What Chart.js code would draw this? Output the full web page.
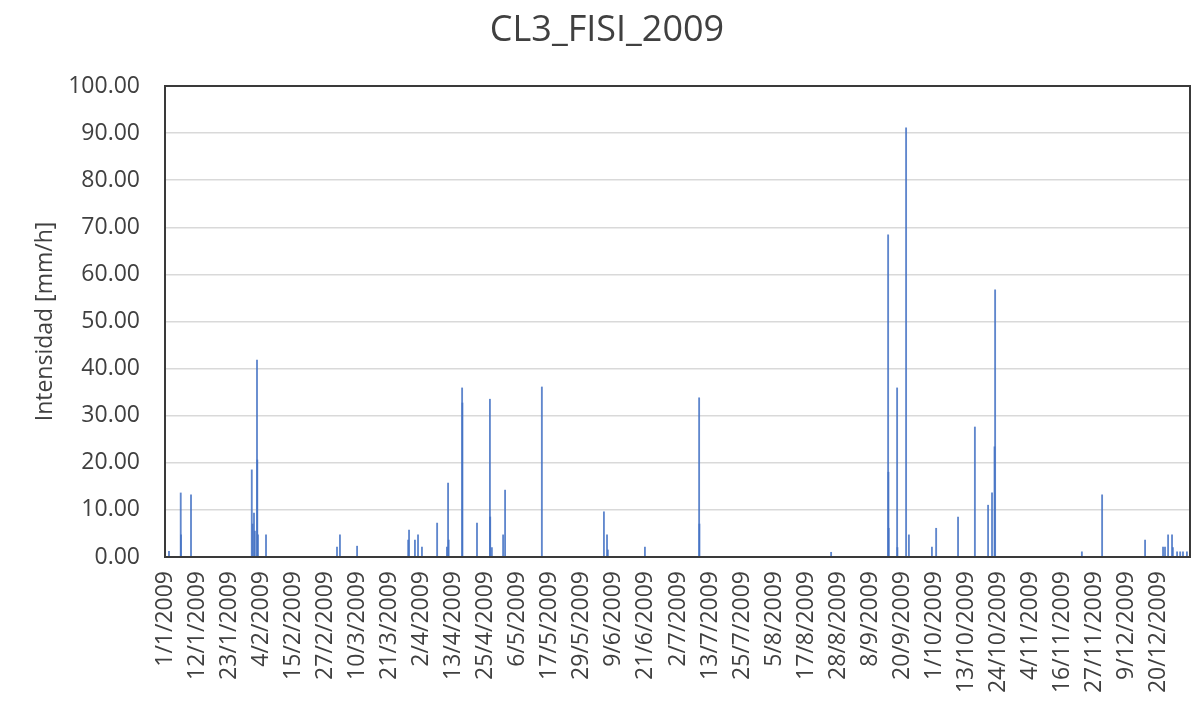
<!DOCTYPE html>
<html>
<head>
<meta charset="utf-8">
<title>CL3_FISI_2009</title>
<script src="https://cdn.jsdelivr.net/npm/chart.js@4.4.1/dist/chart.umd.min.js"></script>
<style>
  html, body { margin: 0; padding: 0; background: #ffffff; }
  #wrap { width: 1192px; height: 704px; position: relative; }
</style>
</head>
<body>
<div id="wrap"><canvas id="chart" width="1192" height="704"></canvas></div>
<script>
// Hourly rain intensity records for station CL3_FISI, year 2009.
// Time is given as day of the year (0 = 1 Jan 00:00), intensity in mm/h.
const dayOfYear = [
  1.42, 5.60, 5.70, 9.26,
  30.90, 31.20, 31.69, 32.00, 32.76, 32.86, 33.10, 35.97,
  61.25, 62.30, 68.40,
  86.60, 86.90, 89.00, 90.10, 91.50, 96.90,
  100.40, 100.80, 101.00, 105.80, 105.90, 111.10,
  115.70, 115.80, 116.40, 120.40, 121.10, 134.20,
  156.30, 157.40, 157.70, 170.90,
  190.20, 190.30, 237.20,
  257.50, 257.60, 257.70, 260.70, 260.80, 263.90, 264.90,
  273.10, 274.60, 282.40, 288.40, 293.10, 294.50, 295.40, 295.60,
  326.50, 333.70, 349.00,
  355.40, 356.10, 357.20, 358.60, 358.90, 360.40, 361.50, 362.50, 363.90
];
const intensity = [
  1.2, 13.6, 4.7, 13.2,
  18.5, 7.0, 9.3, 5.5, 41.8, 20.6, 4.7, 4.7,
  2.1, 4.7, 2.3,
  3.6, 5.7, 3.6, 4.7, 2.1, 7.2,
  2.1, 15.7, 3.6, 35.9, 32.7, 7.2,
  33.5, 8.5, 2.0, 4.7, 14.2, 36.1,
  9.6, 4.7, 1.5, 2.1,
  33.8, 7.0, 1.0,
  68.4, 18.0, 6.1, 35.9, 2.0, 91.1, 4.7,
  2.1, 6.1, 8.5, 27.6, 11.0, 13.6, 23.4, 56.7,
  1.1, 13.2, 3.6,
  2.1, 2.1, 4.7, 4.7, 2.0, 1.1, 1.1, 1.1, 1.1
];

// Category labels shown along the time axis (one every 274 hourly records).
const tickLabels = [
  '1/1/2009', '12/1/2009', '23/1/2009', '4/2/2009', '15/2/2009', '27/2/2009',
  '10/3/2009', '21/3/2009', '2/4/2009', '13/4/2009', '25/4/2009', '6/5/2009',
  '17/5/2009', '29/5/2009', '9/6/2009', '21/6/2009', '2/7/2009', '13/7/2009',
  '25/7/2009', '5/8/2009', '17/8/2009', '28/8/2009', '8/9/2009', '20/9/2009',
  '1/10/2009', '13/10/2009', '24/10/2009', '4/11/2009', '16/11/2009',
  '27/11/2009', '9/12/2009', '20/12/2009'
];
const yTicks = [0, 10, 20, 30, 40, 50, 60, 70, 80, 90, 100];

const HOURS_PER_LABEL = 274;
const YEAR_DAYS = 365;
const FONT = "'Open Sans', 'DejaVu Sans', sans-serif";
const TEXT = '#404040';
const TITLE = 'CL3_FISI_2009';

const points = dayOfYear.map((d, i) => ({ x: d, y: intensity[i] }));

// Dark frame round the plot area, and the chart heading above it
const frame = {
  id: 'frame',
  afterDatasetsDraw(chart) {
    const { ctx, chartArea: a } = chart;
    ctx.save();
    ctx.strokeStyle = '#3a3a3a';
    ctx.lineWidth = 2;
    ctx.strokeRect(a.left, a.top, a.right - a.left, a.bottom - a.top);
    ctx.fillStyle = TEXT;
    ctx.font = `36px ${FONT}`;
    ctx.textAlign = 'center';
    ctx.textBaseline = 'middle';
    ctx.fillText(TITLE, 607, 31);
    ctx.restore();
  }
};

new Chart(document.getElementById('chart'), {
  type: 'bar',
  data: {
    datasets: [{
      label: 'Intensidad',
      data: points,
      backgroundColor: 'rgba(68, 114, 196, 0.85)',
      borderWidth: 0,
      barThickness: 1.2
    }]
  },
  options: {
    responsive: false,
    animation: false,
    layout: { padding: { left: 0, right: 2, top: 86, bottom: 0 } },
    plugins: {
      legend: { display: false },
      tooltip: { enabled: false },
      title: { display: false }
    },
    scales: {
      x: {
        type: 'linear',
        min: 0,
        max: YEAR_DAYS,
        offset: false,
        grid: { display: false, drawTicks: false },
        border: { display: true, color: '#3a3a3a', width: 2 },
        afterBuildTicks(scale) {
          scale.ticks = tickLabels.map((_, i) => ({ value: i * HOURS_PER_LABEL / 24 }));
        },
        afterFit(scale) {
          scale.height = 147;
          scale.paddingLeft = 0;
          scale.paddingRight = 0;
        },
        ticks: {
          autoSkip: false,
          minRotation: 90,
          maxRotation: 90,
          padding: 14,
          color: TEXT,
          font: { family: FONT, size: 23 },
          callback: (value, index) => tickLabels[index]
        }
      },
      y: {
        min: 0,
        max: 100,
        afterBuildTicks(scale) {
          scale.ticks = yTicks.map(v => ({ value: v }));
        },
        afterFit(scale) {
          scale.width = 165;
          scale.paddingTop = 0;
          scale.paddingBottom = 0;
        },
        grid: { color: '#d9d9d9', lineWidth: 1.5, drawTicks: false },
        border: { display: true, color: '#3a3a3a', width: 2 },
        ticks: {
          padding: 25,
          color: TEXT,
          font: { family: FONT, size: 23 },
          callback: v => Number(v).toFixed(2)
        },
        title: {
          display: true,
          text: 'Intensidad [mm/h]',
          color: TEXT,
          font: { family: FONT, size: 23 },
          padding: { top: 32, bottom: 0 }
        }
      }
    }
  },
  plugins: [frame]
});
</script>
</body>
</html>
